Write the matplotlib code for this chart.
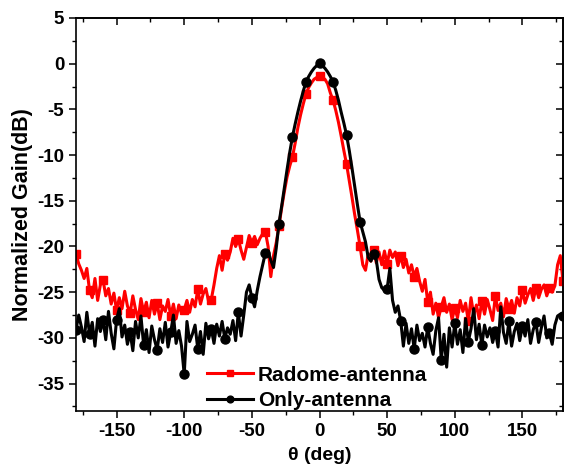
import numpy as np
import matplotlib
matplotlib.use("Agg")
import matplotlib.pyplot as plt
from matplotlib.ticker import MultipleLocator

plt.rcParams['font.family'] = ['Liberation Sans', 'DejaVu Sans']
plt.rcParams['font.weight'] = 'bold'
plt.rcParams['axes.unicode_minus'] = False

# angle grid, 2 degree steps from -180 to 180
theta = np.arange(-180, 181, 2)

# radome + antenna (dB), rows of 20 degrees
radome = [
    -20.8, -21.9, -22.6, -23.5, -22.4, -24.8, -25.6, -23.5, -25.9, -24.2,   # -180..-162
    -23.7, -25.4, -24.6, -26.3, -25.1, -27.0, -25.6, -26.8, -24.9, -26.5,   # -160..-142
    -27.3, -25.4, -26.9, -28.0, -25.7, -27.2, -26.1, -27.8, -25.9, -27.4,   # -140..-122
    -26.2, -28.0, -26.5, -27.1, -25.8, -27.6, -26.3, -27.9, -26.4, -27.3,   # -120..-102
    -26.9, -25.9, -27.2, -25.8, -26.6, -24.7, -26.3, -25.2, -24.6, -26.0,   # -100..-82
    -25.8, -24.2, -22.4, -21.0, -22.6, -20.8, -21.5, -20.6, -19.1, -20.0,   # -80..-62
    -19.2, -20.4, -21.4, -20.1, -18.8, -19.6, -18.9, -19.8, -19.1, -18.6,   # -60..-42
    -18.4, -20.0, -23.3, -21.0, -19.6, -17.8, -15.8, -14.0, -12.4, -11.2,   # -40..-22
    -10.2, -8.7, -7.0, -5.6, -4.4, -3.3, -2.6, -2.1, -1.7, -1.5,            # -20..-2
    -1.4, -1.5, -1.7, -2.2, -3.2, -4.0, -5.1, -6.4, -7.9, -9.5,             # 0..18
    -11.0, -12.8, -14.6, -16.5, -18.2, -20.0, -22.0, -22.6, -20.8, -21.6,   # 20..38
    -20.4, -21.8, -20.6, -22.0, -20.5, -21.9, -20.4, -21.2, -20.6, -22.1,   # 40..58
    -21.0, -22.3, -21.4, -22.9, -22.0, -23.3, -22.4, -23.8, -24.9, -23.6,   # 60..78
    -26.1, -25.0, -27.4, -26.2, -27.8, -26.6, -25.6, -27.2, -26.3, -28.0,   # 80..98
    -26.7, -27.8, -25.9, -27.1, -26.2, -28.2, -25.6, -27.5, -26.4, -27.9,   # 100..118
    -26.0, -27.4, -25.8, -26.9, -28.1, -25.4, -27.0, -26.2, -27.7, -25.7,   # 120..138
    -26.8, -25.9, -27.3, -25.6, -26.5, -24.8, -26.2, -25.3, -24.6, -25.9,   # 140..158
    -24.5, -25.6, -24.7, -24.2, -25.4, -24.5, -25.0, -24.3, -22.0, -21.0,   # 160..178
    -23.8,                                                                   # 180
]

# antenna alone (dB)
only = [
    -29.1, -27.5, -28.8, -30.4, -27.2, -29.6, -28.3, -30.9, -27.9, -29.3,   # -180..-162
    -28.0, -30.2, -27.1, -29.5, -31.2, -28.0, -26.8, -29.9, -28.6, -30.7,   # -160..-142
    -29.4, -31.4, -28.2, -30.0, -27.6, -30.8, -29.1, -31.6, -28.7, -30.2,   # -140..-122
    -31.3, -29.0, -30.5, -28.3, -31.0, -29.4, -27.5, -30.6, -29.2, -30.9,   # -120..-102
    -34.0, -28.2, -30.4, -29.6, -28.6, -31.2, -29.3, -31.8, -28.4, -30.1,   # -100..-82
    -29.0, -30.6, -28.5, -29.8, -28.2, -30.1, -28.9, -29.6, -28.1, -30.3,   # -80..-62
    -27.2, -29.8, -27.5, -25.0, -24.2, -25.6, -26.6, -24.8, -23.3, -22.0,   # -60..-42
    -20.7, -20.5, -21.5, -22.3, -20.2, -17.5, -15.6, -13.6, -11.6, -9.7,    # -40..-22
    -8.0, -6.6, -5.3, -4.1, -3.0, -2.0, -1.4, -0.9, -0.5, -0.2,             # -20..-2
    0.1, -0.2, -0.5, -0.9, -1.4, -2.0, -2.9, -4.0, -5.3, -6.5,              # 0..18
    -7.8, -9.5, -11.4, -13.4, -15.4, -17.3, -18.4, -19.5, -21.2, -21.6,     # 20..38
    -20.8, -21.5, -23.6, -24.5, -24.8, -24.6, -22.4, -25.9, -27.2, -26.5,   # 40..58
    -28.1, -30.9, -28.4, -30.6, -29.0, -31.2, -28.6, -30.3, -29.5, -31.0,   # 60..78
    -28.8, -30.6, -31.8, -29.2, -27.8, -32.4, -29.6, -33.2, -28.9, -31.0,   # 80..98
    -28.4, -30.7, -29.1, -31.6, -27.9, -30.4, -29.0, -26.8, -30.2, -28.5,   # 100..118
    -30.8, -28.6, -29.9, -28.9, -30.5, -29.3, -31.0, -26.6, -29.4, -30.6,   # 120..138
    -28.2, -30.9, -29.3, -28.4, -30.3, -28.7, -29.8, -28.0, -30.6, -29.1,   # 140..158
    -28.3, -30.5, -28.9, -27.6, -30.0, -29.5, -30.7, -28.6, -27.6, -27.4,   # 160..178
    -27.6,                                                                   # 180
]

xticks = [-150, -100, -50, 0, 50, 100, 150]
yticks = [-35, -30, -25, -20, -15, -10, -5, 0, 5]

fig = plt.figure(figsize=(5.66, 4.72), dpi=100)
ax = fig.add_axes([0.1343, 0.1292, 0.8604, 0.8327])

ax.plot(theta, radome, color='red', lw=2.2, marker='s', markersize=5.5,
        markevery=5, label='Radome-antenna')
ax.plot(theta, only, color='black', lw=2.2, marker='o', markersize=6.5,
        markevery=5, label='Only-antenna')

ax.set_xlim(-180, 180)
ax.set_ylim(-38, 5)
ax.set_xticks(xticks)
ax.set_yticks(yticks)
ax.xaxis.set_minor_locator(MultipleLocator(25))
ax.yaxis.set_minor_locator(MultipleLocator(2.5))
ax.tick_params(which='major', direction='out', length=5, width=1.1,
               labelsize=13.5)
ax.tick_params(which='minor', direction='out', length=3, width=1.0)
for lab in ax.get_xticklabels() + ax.get_yticklabels():
    lab.set_fontweight('bold')

# inward ticks on top and right, no labels
top = ax.secondary_xaxis('top')
top.set_xticks(xticks)
top.xaxis.set_minor_locator(MultipleLocator(25))
top.tick_params(which='major', direction='in', length=5, width=1.1, labeltop=False)
top.tick_params(which='minor', direction='in', length=3, width=1.0)
right = ax.secondary_yaxis('right')
right.set_yticks(yticks)
right.yaxis.set_minor_locator(MultipleLocator(2.5))
right.tick_params(which='major', direction='in', length=5, width=1.1, labelright=False)
right.tick_params(which='minor', direction='in', length=3, width=1.0)

for s in ax.spines.values():
    s.set_linewidth(1.2)
top.spines['top'].set_linewidth(1.2)
right.spines['right'].set_linewidth(1.2)

ax.set_xlabel('θ (deg)', fontsize=14, fontweight='bold', labelpad=5)
ax.set_ylabel('Normalized Gain(dB)', fontsize=15.5, fontweight='bold', labelpad=3)

ax.legend(loc='lower center', bbox_to_anchor=(0.495, -0.045), frameon=False,
          prop={'size': 15, 'weight': 'bold'}, handlelength=2.2,
          handletextpad=0.25, labelspacing=0.3, markerscale=0.75)

fig.savefig('out.png', dpi=100)
